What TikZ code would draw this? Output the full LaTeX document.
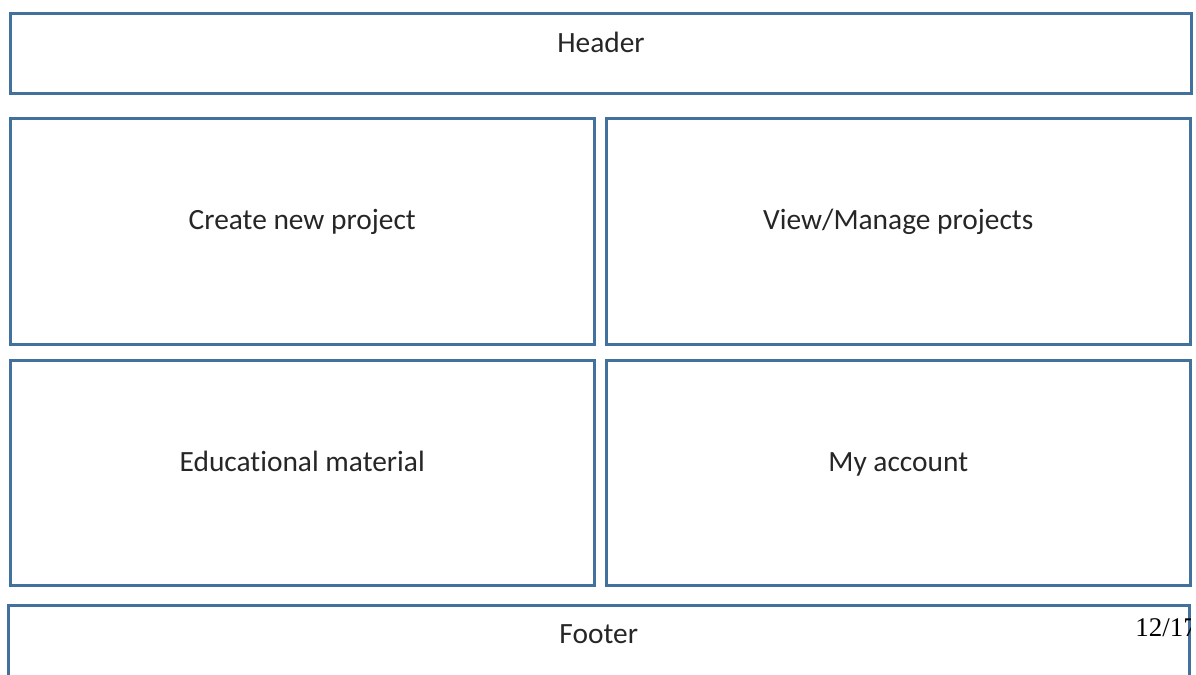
\documentclass[tikz,border=0pt]{standalone}
\usepackage{fontspec}
\usepackage{xcolor}
\newfontfamily\panelfont[Ligatures=NoCommon]{Carlito}
\newfontfamily\pagefont{Liberation Serif}
\definecolor{panelblue}{HTML}{41719C}
\definecolor{captiongray}{HTML}{262626}
\tikzset{
  panel/.style={draw=panelblue, line width=1.5pt, inner sep=0pt},
  caption/.style={anchor=base, inner sep=0pt, text=captiongray, font=\panelfont\fontsize{14.7}{17}\selectfont}
}

\begin{document}
\begin{tikzpicture}[x=0.5pt, y=-0.5pt]
            \clip (0,0) rectangle (1196,675);

            \node[panel, minimum width=590.5pt, minimum height=39.75pt] (Header) at (601,53.25) {};
            \node[panel, minimum width=291.75pt, minimum height=112.75pt] (CreateProject) at (302.25,231.25) {};
            \node[panel, minimum width=292.25pt, minimum height=112.75pt] (ViewProjects) at (898.25,231.25) {};
            \node[panel, minimum width=291.75pt, minimum height=112.5pt] (Education) at (302.25,473) {};
            \node[panel, minimum width=292.25pt, minimum height=112.5pt] (Account) at (898.25,473) {};
            \node[panel, minimum width=590.75pt, minimum height=40pt] (Footer) at (598.75,645) {};

            \node[caption] (HeaderText) at (Header |- 0,52) {Header};
            \node[caption] (CreateProjectText) at (CreateProject |- 0,229) {Create new project};
            \node[caption] (ViewProjectsText) at (ViewProjects |- 0,229) {View/Manage projects};
            \node[caption] (EducationText) at (Education |- 0,471) {Educational material};
            \node[caption] (AccountText) at (Account |- 0,471) {My account};
            \node[caption] (FooterText) at (Footer |- 0,643) {Footer};

            % page number, cut off at the footer edge
            \begin{scope}
              \clip (0,0) rectangle (1190,675);
              \node[anchor=base west, inner sep=0pt, font=\pagefont\fontsize{13.5}{16}\selectfont] (PageNum) at (1135,636) {12/17};
            \end{scope}
        \end{tikzpicture}
\end{document}
